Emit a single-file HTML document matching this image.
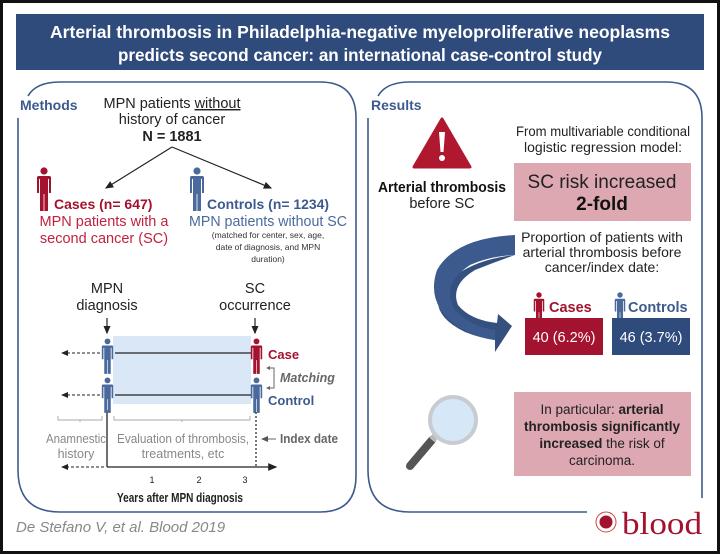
<!DOCTYPE html>
<html><head><meta charset="utf-8"><style>
html,body{margin:0;padding:0;background:#fff}
svg{display:block}
text{font-family:"Liberation Sans",sans-serif}
</style></head><body>
<svg width="720" height="554" viewBox="0 0 720 554" xmlns="http://www.w3.org/2000/svg">
<defs>
<symbol id="p" viewBox="0 0 16 44">
<circle cx="8" cy="4" r="3.6"/>
<path d="M2.5 9 H13.5 Q15 9 15 11 V26 H13 V12 H12 V44 H8.4 V27 H7.6 V44 H4 V12 H3 V26 H1 V11 Q1 9 2.5 9Z"/>
</symbol>
<marker id="ah" markerWidth="8" markerHeight="8" refX="6" refY="4" orient="auto"><path d="M0 1 L7 4 L0 7 Z" fill="#222"/></marker>
<marker id="ahg" markerWidth="8" markerHeight="8" refX="6" refY="4" orient="auto"><path d="M0 1 L7 4 L0 7 Z" fill="#555"/></marker>
</defs>
<rect x="0" y="0" width="720" height="554" fill="#111"/>
<rect x="3" y="3" width="714" height="548" fill="#fff"/>
<!-- header -->
<rect x="16" y="14" width="688" height="56" fill="#2f4b7c"/>
<text x="360" y="38" font-size="17.5" font-weight="bold" fill="#fff" text-anchor="middle" textLength="620" lengthAdjust="spacingAndGlyphs">Arterial thrombosis in Philadelphia-negative myeloproliferative neoplasms</text>
<text x="360" y="61" font-size="17.5" font-weight="bold" fill="#fff" text-anchor="middle" textLength="484" lengthAdjust="spacingAndGlyphs">predicts second cancer: an international case-control study</text>
<!-- left panel -->
<path d="M18 118 V470 Q18 512 60 512 H320 Q356 512 356 476 V118 Q356 82 320 82 H60 Q36 82 28 96" fill="none" stroke="#3d5a8e" stroke-width="1.6"/>
<text x="20" y="110" font-size="14" font-weight="bold" fill="#3d5a8e">Methods</text>
<g font-size="14.5" fill="#222" text-anchor="middle">
<text x="172" y="108">MPN patients <tspan text-decoration="underline">without</tspan></text>
<text x="172" y="124">history of cancer</text>
<text x="172" y="141" font-weight="bold">N = 1881</text>
</g>
<line x1="172" y1="147" x2="106" y2="188" stroke="#222" stroke-width="1.2" marker-end="url(#ah)"/>
<line x1="172" y1="147" x2="271" y2="188" stroke="#222" stroke-width="1.2" marker-end="url(#ah)"/>
<use href="#p" x="36" y="167" width="16" height="44" fill="#a3122e"/>
<use href="#p" x="189" y="167" width="16" height="44" fill="#4a6a9e"/>
<text x="54" y="209" font-size="14" font-weight="bold" fill="#a3122e">Cases (n= 647)</text>
<text x="104" y="226" font-size="14.5" fill="#c0233f" text-anchor="middle">MPN patients with a</text>
<text x="104" y="243" font-size="14.5" fill="#c0233f" text-anchor="middle">second cancer (SC)</text>
<text x="207" y="209" font-size="14" font-weight="bold" fill="#3d5a8e" textLength="122" lengthAdjust="spacingAndGlyphs">Controls (n= 1234)</text>
<text x="268" y="226" font-size="14.5" fill="#4a6a9e" text-anchor="middle" textLength="158" lengthAdjust="spacingAndGlyphs">MPN patients without SC</text>
<g font-size="8.5" fill="#333" text-anchor="middle">
<text x="268" y="238">(matched for center, sex, age,</text>
<text x="268" y="250">date of diagnosis, and MPN</text>
<text x="268" y="262">duration)</text>
</g>
<g font-size="14.5" fill="#222" text-anchor="middle">
<text x="107" y="293">MPN</text><text x="107" y="310">diagnosis</text>
<text x="255" y="293">SC</text><text x="255" y="310">occurrence</text>
</g>
<line x1="107" y1="318" x2="107" y2="333" stroke="#222" stroke-width="1.2" marker-end="url(#ah)"/>
<line x1="255" y1="318" x2="255" y2="333" stroke="#222" stroke-width="1.2" marker-end="url(#ah)"/>
<rect x="113" y="336" width="138" height="68" fill="#d9e7f6"/>
<line x1="115" y1="353" x2="251" y2="353" stroke="#222" stroke-width="1.2"/>
<line x1="115" y1="395" x2="251" y2="395" stroke="#222" stroke-width="1.2"/>
<line x1="100" y1="353" x2="62" y2="353" stroke="#222" stroke-width="1" stroke-dasharray="3,2" marker-end="url(#ah)"/>
<line x1="100" y1="395" x2="62" y2="395" stroke="#222" stroke-width="1" stroke-dasharray="3,2" marker-end="url(#ah)"/>
<line x1="107" y1="410" x2="107" y2="467" stroke="#222" stroke-width="1.3"/>
<use href="#p" x="101" y="338" width="13" height="36" fill="#4a6a9e"/>
<use href="#p" x="101" y="377" width="13" height="36" fill="#4a6a9e"/>
<use href="#p" x="250" y="338" width="13" height="36" fill="#a3122e"/>
<use href="#p" x="250" y="377" width="13" height="36" fill="#4a6a9e"/>
<line x1="256" y1="412" x2="256" y2="467" stroke="#222" stroke-width="1.2" stroke-dasharray="2,2"/>
<text x="268" y="359" font-size="13" font-weight="bold" fill="#a3122e">Case</text>
<text x="280" y="382" font-size="12.5" font-weight="bold" font-style="italic" fill="#666">Matching</text>
<text x="268" y="405" font-size="13" font-weight="bold" fill="#3d5a8e">Control</text>
<path d="M267 368 H274 V388 H267" fill="none" stroke="#666" stroke-width="1"/>
<path d="M270 366 L266 368 L270 370 Z M270 386 L266 388 L270 390Z" fill="#666"/>
<path d="M58 416 V420 H102 V416 M80 420 V422" fill="none" stroke="#aaa" stroke-width="0.9"/>
<path d="M114 416 V420 H250 V416 M182 420 V422" fill="none" stroke="#aaa" stroke-width="0.9"/>
<g font-size="12.5" fill="#888" text-anchor="middle">
<text x="76" y="443" textLength="60" lengthAdjust="spacingAndGlyphs">Anamnestic</text><text x="76" y="458">history</text>
<text x="183" y="443" textLength="132" lengthAdjust="spacingAndGlyphs">Evaluation of thrombosis,</text><text x="183" y="458">treatments, etc</text>
</g>
<line x1="276" y1="439" x2="262" y2="439" stroke="#666" stroke-width="1" marker-end="url(#ahg)"/>
<text x="280" y="443" font-size="12.5" font-weight="bold" fill="#666" textLength="58" lengthAdjust="spacingAndGlyphs">Index date</text>
<line x1="107" y1="467" x2="276" y2="467" stroke="#222" stroke-width="1.3" marker-end="url(#ah)"/>
<line x1="104" y1="467" x2="62" y2="467" stroke="#222" stroke-width="1" stroke-dasharray="3,2" marker-end="url(#ah)"/>
<g font-size="9" fill="#222" text-anchor="middle"><text x="152" y="483">1</text><text x="199" y="483">2</text><text x="245" y="483">3</text></g>
<text x="180" y="502" font-size="12.5" font-weight="bold" fill="#222" text-anchor="middle" textLength="126" lengthAdjust="spacingAndGlyphs">Years after MPN diagnosis</text>
<text x="16" y="532" font-size="15" font-style="italic" fill="#888">De Stefano V, et al. Blood 2019</text>
<!-- right panel -->
<path d="M368 118 V470 Q368 512 410 512 H587 M702 498 V118 Q702 82 666 82 H410 Q386 82 378 96" fill="none" stroke="#3d5a8e" stroke-width="1.6"/>
<text x="371" y="110" font-size="14" font-weight="bold" fill="#3d5a8e">Results</text>
<path d="M442 119 L470 167 L414 167 Z" fill="#b0182f" stroke="#b0182f" stroke-width="3" stroke-linejoin="round"/>
<path d="M439 132 H445 L443.5 152 H440.5Z" fill="#fff"/><circle cx="442" cy="158" r="3" fill="#fff"/>
<text x="442" y="192" font-size="14.5" font-weight="bold" fill="#111" text-anchor="middle" textLength="128" lengthAdjust="spacingAndGlyphs">Arterial thrombosis</text>
<text x="442" y="208" font-size="14.5" fill="#222" text-anchor="middle">before SC</text>
<text x="603" y="136" font-size="14" fill="#222" text-anchor="middle" textLength="174" lengthAdjust="spacingAndGlyphs">From multivariable conditional</text>
<text x="603" y="152" font-size="14" fill="#222" text-anchor="middle">logistic regression model:</text>
<rect x="514" y="163" width="177" height="58" fill="#dea8b2"/>
<text x="602" y="188" font-size="19" fill="#222" text-anchor="middle">SC risk increased</text>
<text x="602" y="210" font-size="19" font-weight="bold" fill="#111" text-anchor="middle">2-fold</text>
<text x="602" y="242" font-size="14" fill="#222" text-anchor="middle">Proportion of patients with</text>
<text x="602" y="257" font-size="14" fill="#222" text-anchor="middle">arterial thrombosis before</text>
<text x="602" y="272" font-size="14" fill="#222" text-anchor="middle">cancer/index date:</text>
<path d="M515 235 L515 255 Q465 260 440 290 Q430 315 465 332 Q480 338 495 340 L495 352 L512 326 L498 314 L497 323 Q470 320 458 305 Q450 285 475 270 Q495 262 515 255Z" fill="#34507f"/>
<path d="M515 235 Q455 238 437 270 Q425 305 460 328 Q478 338 495 340 L495 330 Q470 326 455 310 Q440 285 470 265 Q490 256 515 255Z" fill="#3d5a8e"/>
<use href="#p" x="533" y="292" width="12" height="33" fill="#a3122e"/>
<use href="#p" x="614" y="292" width="12" height="33" fill="#4a6a9e"/>
<text x="549" y="312" font-size="14.5" font-weight="bold" fill="#a3122e">Cases</text>
<text x="628" y="312" font-size="14.5" font-weight="bold" fill="#3d5a8e">Controls</text>
<rect x="525" y="318" width="78" height="37" fill="#a3122e"/>
<rect x="612" y="318" width="78" height="37" fill="#2f4b7c"/>
<text x="564" y="342" font-size="14.5" fill="#fff" text-anchor="middle">40 (6.2%)</text>
<text x="651" y="342" font-size="14.5" fill="#fff" text-anchor="middle">46 (3.7%)</text>
<line x1="410" y1="466" x2="432" y2="440" stroke="#555" stroke-width="8" stroke-linecap="round"/>
<line x1="432" y1="440" x2="438" y2="433" stroke="#bbb" stroke-width="7"/>
<circle cx="453" cy="420" r="23" fill="#d6e8f7" stroke="#c8ccd2" stroke-width="4"/>
<rect x="514" y="392" width="177" height="84" fill="#dea8b2"/>
<g font-size="13.5" fill="#222" text-anchor="middle">
<text x="602" y="414">In particular: <tspan font-weight="bold">arterial</tspan></text>
<text x="602" y="431" font-weight="bold">thrombosis significantly</text>
<text x="602" y="448"><tspan font-weight="bold">increased</tspan> the risk of</text>
<text x="602" y="465">carcinoma.</text>
</g>
<circle cx="606" cy="522" r="10" fill="#fff" stroke="#c44" stroke-width="1"/>
<circle cx="606" cy="522" r="6.5" fill="#a3122e"/>
<text x="622" y="534" font-size="32" fill="#a3122e" style="font-family:'Liberation Serif',serif" textLength="80" lengthAdjust="spacingAndGlyphs">blood</text>
</svg>
</body></html>
